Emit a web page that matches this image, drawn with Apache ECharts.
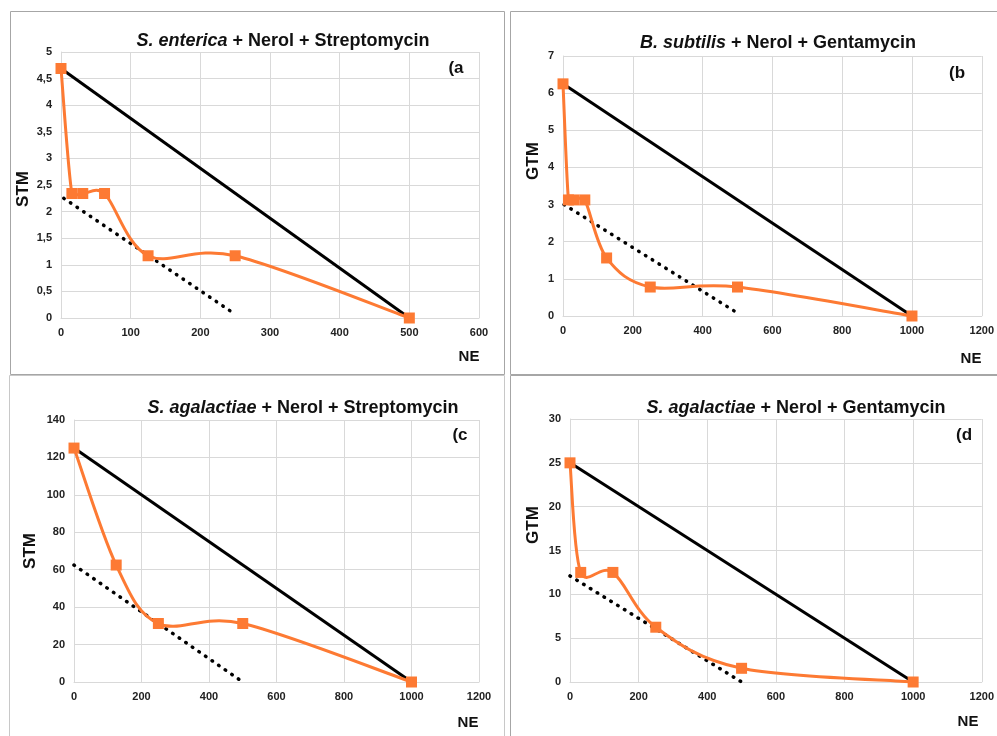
<!DOCTYPE html>
<html><head><meta charset="utf-8">
<script src="https://cdn.jsdelivr.net/npm/echarts@6/dist/echarts.min.js"></script>
<style>html,body{margin:0;padding:0;background:#fff}#c{width:997px;height:736px}</style>
</head><body><div id="c"></div>
<script>
// Panel (a) S. enterica + Nerol + Streptomycin
const neA = [0, 15.625, 31.25, 62.5, 125, 250, 500];
const stmA = [4.69, 2.34, 2.34, 2.34, 1.17, 1.17, 0];
const addA_x = [0, 500];
const addA_y = [4.69, 0];
const dotA_x = [4, 250];
const dotA_y = [2.25, 0.07];
// Panel (b) B. subtilis + Nerol + Gentamycin
const neB = [0, 15.625, 31.25, 62.5, 125, 250, 500, 1000];
const gtmB = [6.25, 3.125, 3.125, 3.125, 1.5625, 0.78, 0.78, 0];
const addB_x = [0, 1000];
const addB_y = [6.25, 0];
const dotB_x = [3, 500];
const dotB_y = [3.0, 0.08];
// Panel (c) S. agalactiae + Nerol + Streptomycin
const neC = [0, 125, 250, 500, 1000];
const stmC = [125, 62.5, 31.25, 31.25, 0];
const addC_x = [0, 1000];
const addC_y = [125, 0];
const dotC_x = [0, 500];
const dotC_y = [62.5, 0];
// Panel (d) S. agalactiae + Nerol + Gentamycin
const neD = [0, 31.25, 125, 250, 500, 1000];
const gtmD = [25, 12.5, 12.5, 6.25, 1.5625, 0];
const addD_x = [0, 1000];
const addD_y = [25, 0];
const dotD_x = [0, 500];
const dotD_y = [12.1, 0];

const titles = [
  ['S. enterica', ' + Nerol + Streptomycin'],
  ['B. subtilis', ' + Nerol + Gentamycin'],
  ['S. agalactiae', ' + Nerol + Streptomycin'],
  ['S. agalactiae', ' + Nerol + Gentamycin']
];
const tags = ['(a', '(b', '(c', '(d'];
const yNames = ['STM', 'GTM', 'STM', 'GTM'];
const xName = 'NE';
const xMax = [600, 1200, 1200, 1200];
const xStep = [100, 200, 200, 200];
const yMax = [5, 7, 140, 30];
const yStep = [0.5, 1, 20, 5];

const zip = (a, b) => a.map((v, i) => [v, b[i]]);
const curves = [zip(neA, stmA), zip(neB, gtmB), zip(neC, stmC), zip(neD, gtmD)];
const adds = [zip(addA_x, addA_y), zip(addB_x, addB_y), zip(addC_x, addC_y), zip(addD_x, addD_y)];
const dots = [zip(dotA_x, dotA_y), zip(dotB_x, dotB_y), zip(dotC_x, dotC_y), zip(dotD_x, dotD_y)];

const FONT = 'Liberation Sans, Arial, sans-serif';
const ORANGE = '#fd7a33';
const GRIDC = '#d9d9d9';

const grids = [
  {left: 61, top: 52, width: 418, height: 266},
  {left: 563, top: 56, width: 419, height: 260},
  {left: 74, top: 420, width: 405, height: 262},
  {left: 570, top: 419, width: 412, height: 263}
];

// Excel-style smoothed segment (Bezier with neighbour tangents, arms limited to half segment)
function smoothSegment(params, api) {
  const n = params.dataInsideLength;
  const i = params.dataIndexInside;
  if (i >= n - 1) return null;
  const p = k => api.coord([api.value(0, k), api.value(1, k)]);
  const P1 = p(i), P2 = p(i + 1);
  const P0 = i > 0 ? p(i - 1) : P1;
  const P3 = i + 2 < n ? p(i + 2) : P2;
  const dist = (a, b) => Math.hypot(b[0] - a[0], b[1] - a[1]);
  const d02 = dist(P0, P2), d12 = dist(P1, P2), d13 = dist(P1, P3);
  let c1 = P1.slice(), c2 = P2.slice();
  if (d02 > 0) {
    const a1 = Math.min(d02 / 6, d12 / 2);
    c1 = [P1[0] + (P2[0] - P0[0]) / d02 * a1, P1[1] + (P2[1] - P0[1]) / d02 * a1];
  }
  if (d13 > 0) {
    const a2 = Math.min(d13 / 6, d12 / 2);
    c2 = [P2[0] - (P3[0] - P1[0]) / d13 * a2, P2[1] - (P3[1] - P1[1]) / d13 * a2];
  }
  return {
    type: 'bezierCurve',
    shape: {x1: P1[0], y1: P1[1], cpx1: c1[0], cpy1: c1[1], cpx2: c2[0], cpy2: c2[1], x2: P2[0], y2: P2[1]},
    style: {fill: null, stroke: ORANGE, lineWidth: 3, lineCap: 'round'},
    silent: true
  };
}

const xAxes = [], yAxes = [], series = [];
for (let i = 0; i < 4; i++) {
  xAxes.push({
    type: 'value', gridIndex: i, min: 0, max: xMax[i], interval: xStep[i],
    axisLine: {show: true, lineStyle: {color: GRIDC, width: 1}},
    axisTick: {show: false},
    splitLine: {show: true, lineStyle: {color: GRIDC, width: 1}},
    axisLabel: {color: '#222', fontFamily: FONT, fontWeight: 'bold', fontSize: 11, margin: 9,
      formatter: v => String(v)}
  });
  yAxes.push({
    type: 'value', gridIndex: i, min: 0, max: yMax[i], interval: yStep[i],
    axisLine: {show: true, lineStyle: {color: GRIDC, width: 1}},
    axisTick: {show: false},
    splitLine: {show: true, lineStyle: {color: GRIDC, width: 1}},
    axisLabel: {color: '#222', fontFamily: FONT, fontWeight: 'bold', fontSize: 11, margin: 9,
      formatter: v => String(v).replace('.', ',')}
  });
  series.push({
    type: 'line', xAxisIndex: i, yAxisIndex: i, data: dots[i], showSymbol: false,
    lineStyle: {color: '#000', width: 3.5, type: [0.5, 7.5], cap: 'round'}, z: 2, silent: true
  });
  series.push({
    type: 'line', xAxisIndex: i, yAxisIndex: i, data: adds[i], showSymbol: false,
    lineStyle: {color: '#000', width: 3}, z: 3, silent: true
  });
  series.push({
    type: 'custom', xAxisIndex: i, yAxisIndex: i, data: curves[i],
    renderItem: smoothSegment, z: 4, silent: true
  });
  series.push({
    type: 'scatter', xAxisIndex: i, yAxisIndex: i, data: curves[i],
    symbol: 'rect', symbolSize: 11, itemStyle: {color: ORANGE, opacity: 1}, z: 5, silent: true
  });
}

const titlePos = [[283, 41], [778, 43], [303, 408], [796, 408]];
const tagPos = [[456, 68], [957, 73], [460, 435], [964, 435]];
const yNamePos = [[23, 189], [533, 161], [30, 551], [533, 525]];
const xNamePos = [[469, 357], [971, 359], [468, 723], [968, 722]];

const graphic = [];
graphic.push({type: 'rect', shape: {x: 10.5, y: 11.5, width: 494, height: 363}, style: {fill: null, stroke: '#a6a6a6', lineWidth: 1}, silent: true});
graphic.push({type: 'rect', shape: {x: 510.5, y: 11.5, width: 500, height: 363}, style: {fill: null, stroke: '#a6a6a6', lineWidth: 1}, silent: true});
graphic.push({type: 'rect', shape: {x: 9.5, y: 375.5, width: 495, height: 400}, style: {fill: null, stroke: '#c8c8c8', lineWidth: 1}, silent: true});
graphic.push({type: 'rect', shape: {x: 510.5, y: 375.5, width: 500, height: 400}, style: {fill: null, stroke: '#a6a6a6', lineWidth: 1}, silent: true});
for (let i = 0; i < 4; i++) {
  graphic.push({
    type: 'text', x: titlePos[i][0], y: titlePos[i][1], silent: true,
    style: {
      text: '{i|' + titles[i][0] + '}{n|' + titles[i][1] + '}',
      align: 'center', verticalAlign: 'middle',
      rich: {
        i: {fontFamily: FONT, fontSize: 18, fontWeight: 'bold', fontStyle: 'italic', fill: '#111'},
        n: {fontFamily: FONT, fontSize: 18, fontWeight: 'bold', fill: '#111'}
      }
    }
  });
  graphic.push({type: 'text', x: tagPos[i][0], y: tagPos[i][1], silent: true,
    style: {text: tags[i], align: 'center', verticalAlign: 'middle', fontFamily: FONT, fontSize: 17, fontWeight: 'bold', fill: '#111'}});
  graphic.push({type: 'text', x: yNamePos[i][0], y: yNamePos[i][1], rotation: Math.PI / 2, silent: true,
    style: {text: yNames[i], align: 'center', verticalAlign: 'middle', fontFamily: FONT, fontSize: 17, fontWeight: 'bold', fill: '#111'}});
  graphic.push({type: 'text', x: xNamePos[i][0], y: xNamePos[i][1], silent: true,
    style: {text: xName, align: 'center', verticalAlign: 'middle', fontFamily: FONT, fontSize: 15, fontWeight: 'bold', fill: '#111'}});
}

const chart = echarts.init(document.getElementById('c'), null, {renderer: 'canvas'});
chart.setOption({
  animation: false,
  backgroundColor: '#fff',
  grid: grids,
  xAxis: xAxes,
  yAxis: yAxes,
  series: series,
  graphic: graphic
});
</script></body></html>
